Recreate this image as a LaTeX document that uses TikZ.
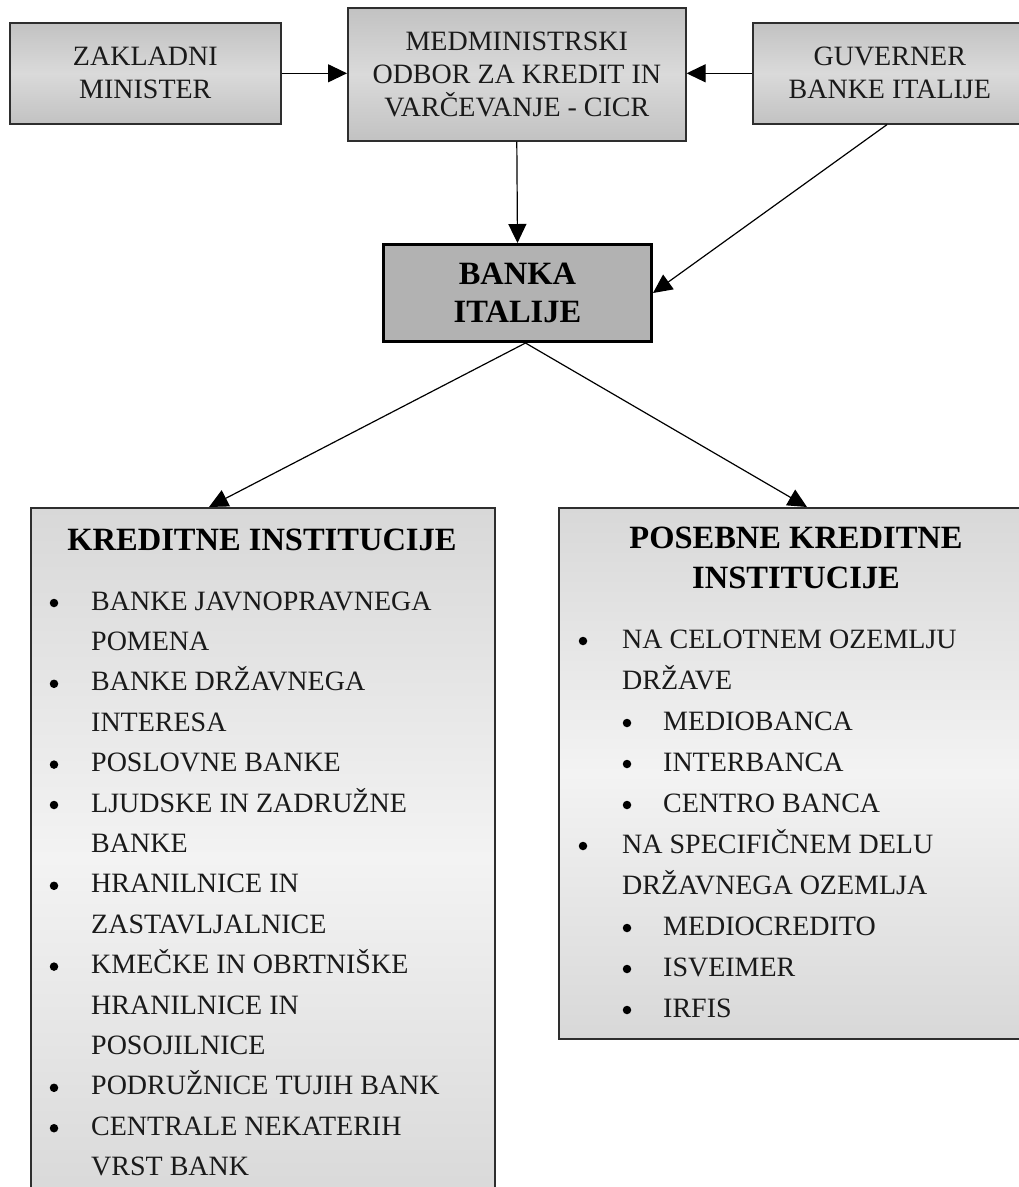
\documentclass[tikz,border=0pt]{standalone}
\usepackage{fontspec}
\setmainfont{Liberation Serif}
\usetikzlibrary{arrows.meta,calc}
\definecolor{bordc}{HTML}{2E2E2E}
\definecolor{topc}{HTML}{C2C2C2}
\definecolor{midc}{HTML}{DADADA}
\definecolor{bigtop}{HTML}{D8D8D8}
\definecolor{bigmid}{HTML}{F3F3F3}
\definecolor{bankc}{HTML}{B2B2B2}
\definecolor{txtc}{HTML}{1A1A1A}
\begin{document}
\begin{tikzpicture}[x=1pt,y=-1pt,
  topbox/.style={draw=bordc, line width=1.6pt, top color=topc, bottom color=topc, middle color=midc,
    inner sep=0pt, align=center, anchor=north west, text=txtc, font=\fontsize{28}{33}\selectfont},
  bigbox/.style={draw=bordc, line width=1.6pt, top color=bigtop, bottom color=bigtop, middle color=bigmid,
    inner sep=0pt, anchor=north west},
  itemtext/.style={anchor=base west, inner sep=0pt, text=txtc, font=\fontsize{28}{33}\selectfont},
  bul/.style={circle, fill=black, inner sep=0pt, minimum size=8.5pt},
  headtext/.style={anchor=base, inner sep=0pt, font=\bfseries\fontsize{32.5}{40}\selectfont},
  conn/.style={line width=1.2pt, draw=black, -{Triangle[length=19pt,width=18pt]}}
]
\useasboundingbox (0,0) rectangle (1019,1187);
\clip (0,0) rectangle (1019,1187);

% top row
\node[topbox, minimum width=271pt, minimum height=101pt] (zak) at (9,22) {ZAKLADNI\\MINISTER};
\node[topbox, minimum width=338pt, minimum height=133pt] (cicr) at (347,7) {MEDMINISTRSKI\\ODBOR ZA KREDIT IN\\VARČEVANJE - CICR};
\node[topbox, minimum width=274pt, minimum height=101pt] (guv) at (752,22) {GUVERNER\\BANKE ITALIJE};

% central bank
\node[draw=black, line width=3pt, fill=bankc, minimum width=268pt, minimum height=97pt, inner sep=0pt,
  anchor=north west, align=center, font=\bfseries\fontsize{32.5}{38}\selectfont] (banka) at (382,243) {BANKA\\ITALIJE};

% big boxes
\node[bigbox, minimum width=464pt, minimum height=700pt] (kred) at (30,507) {};
\node[bigbox, minimum width=476pt, minimum height=531pt] (pos) at (558,507) {};

% headings
\node[headtext] (kredh) at (262,550) {KREDITNE INSTITUCIJE};
\node[headtext] (posh1) at (796,548) {POSEBNE KREDITNE};
\node[headtext] (posh2) at (796,588) {INSTITUCIJE};

% kreditne list
\foreach \k/\t in {0/BANKE JAVNOPRAVNEGA, 1/POMENA, 2/BANKE DRŽAVNEGA, 3/INTERESA,
  4/POSLOVNE BANKE, 5/LJUDSKE IN ZADRUŽNE, 6/BANKE, 7/HRANILNICE IN, 8/ZASTAVLJALNICE,
  9/KMEČKE IN OBRTNIŠKE, 10/HRANILNICE IN, 11/POSOJILNICE, 12/PODRUŽNICE TUJIH BANK,
  13/CENTRALE NEKATERIH, 14/VRST BANK}
  \node[itemtext] (kt\k) at (91,610+40.4*\k) {\t};
\foreach \k in {0,2,4,5,7,9,12,13}
  \node[bul] (kb\k) at (54,603+40.4*\k) {};

% posebne list
\foreach \k/\t in {0/NA CELOTNEM OZEMLJU, 1/DRŽAVE, 5/NA SPECIFIČNEM DELU, 6/DRŽAVNEGA OZEMLJA}
  \node[itemtext] (pt\k) at (622,648+41*\k) {\t};
\foreach \k/\t in {2/MEDIOBANCA, 3/INTERBANCA, 4/CENTRO BANCA, 7/MEDIOCREDITO, 8/ISVEIMER, 9/IRFIS}
  \node[itemtext] (pt\k) at (663,648+41*\k) {\t};
\foreach \k in {0,5}
  \node[bul] (pb\k) at (583,641+41*\k) {};
\foreach \k in {2,3,4,7,8,9}
  \node[bul] (pb\k) at (627,641+41*\k) {};

% connectors
\draw[conn] (zak.east) -- (cicr.west |- zak.east);
\draw[conn] (guv.west) -- (cicr.east |- guv.west);
\draw[conn] (cicr.south) -- (banka.north);
\draw[conn] ($(guv.south west)+(135,0)$) -- (banka.east);
\draw[conn] ($(banka.south)+(8,0)$) -- ($(kred.north west)+(179,0)$);
\draw[conn] ($(banka.south)+(8,0)$) -- ($(pos.north west)+(249,0)$);
\end{tikzpicture}
\end{document}
